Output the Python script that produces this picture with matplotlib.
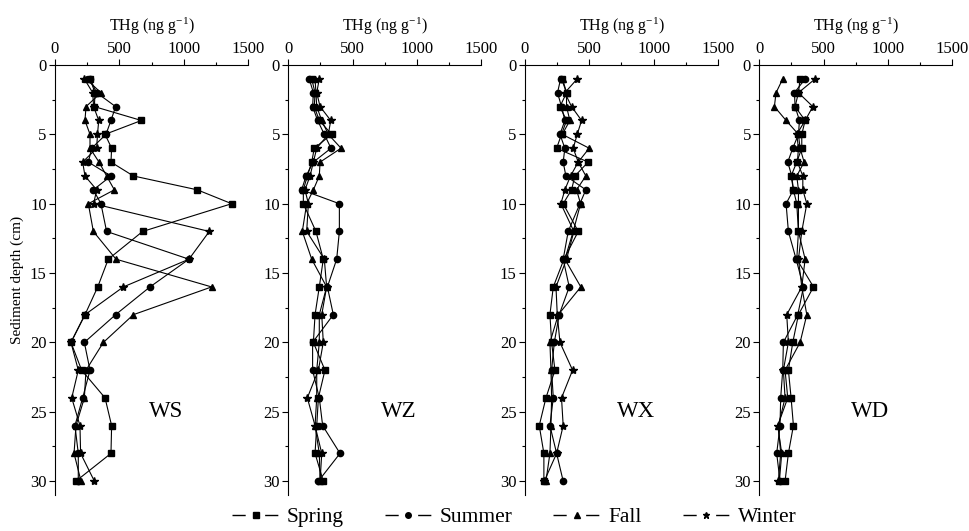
import matplotlib.pyplot as plt
from matplotlib.lines import Line2D
from matplotlib.ticker import MultipleLocator

plt.rcParams['font.family'] = ['Liberation Serif', 'DejaVu Serif']
plt.rcParams['mathtext.fontset'] = 'custom'
plt.rcParams['mathtext.rm'] = 'Liberation Serif'
plt.rcParams['mathtext.it'] = 'Liberation Serif:italic'

depth = [1, 2, 3, 4, 5, 6, 7, 8, 9, 10, 12, 14, 16, 18, 20, 22, 24, 26, 28, 30]
sites = ['WS', 'WZ', 'WX', 'WD']
seasons = ['Spring', 'Summer', 'Fall', 'Winter']

# THg (ng/g) per site, per season
ws_spring = [272, 311, 306, 671, 389, 440, 435, 609, 1106, 1373, 681, 414, 332, 233, 124, 207, 389, 440, 435, 163]
ws_summer = [272, 324, 471, 435, 396, 285, 259, 435, 298, 357, 401, 1041, 738, 471, 228, 272, 215, 155, 181, 181]
ws_fall = [241, 357, 241, 233, 272, 272, 342, 401, 461, 259, 298, 474, 1217, 609, 376, 241, 228, 163, 148, 202]
ws_winter = [228, 293, 300, 340, 330, 324, 215, 233, 324, 300, 1199, 1041, 531, 233, 124, 181, 130, 194, 199, 306]

wz_spring = [182, 208, 202, 241, 337, 202, 182, 148, 117, 117, 215, 272, 241, 208, 195, 285, 234, 221, 208, 272]
wz_summer = [163, 195, 189, 228, 280, 332, 195, 138, 104, 397, 397, 376, 304, 350, 189, 189, 241, 267, 402, 234]
wz_fall = [208, 215, 221, 260, 311, 410, 247, 241, 195, 143, 109, 182, 298, 241, 241, 221, 221, 208, 241, 247]
wz_winter = [241, 221, 247, 330, 311, 221, 195, 169, 130, 156, 143, 280, 298, 260, 272, 234, 148, 208, 260, 247]

wx_spring = [284, 323, 272, 323, 284, 246, 491, 388, 362, 297, 414, 303, 220, 194, 207, 233, 163, 111, 147, 147]
wx_summer = [277, 253, 284, 310, 272, 310, 297, 318, 473, 427, 336, 297, 344, 266, 228, 207, 220, 194, 246, 297]
wx_fall = [292, 323, 323, 349, 290, 499, 414, 473, 401, 432, 375, 310, 434, 259, 194, 202, 207, 202, 194, 163]
wx_winter = [406, 310, 362, 440, 406, 375, 414, 354, 310, 279, 380, 323, 241, 251, 272, 370, 284, 297, 246, 150]

wd_spring = [317, 304, 278, 356, 330, 330, 291, 247, 265, 291, 304, 291, 421, 304, 260, 226, 247, 265, 226, 200]
wd_summer = [356, 273, 278, 312, 304, 260, 221, 252, 265, 208, 226, 286, 343, 299, 187, 182, 166, 161, 135, 161]
wd_fall = [182, 130, 117, 208, 304, 317, 348, 291, 304, 304, 304, 356, 330, 369, 317, 200, 221, 143, 174, 156]
wd_winter = [434, 304, 416, 356, 291, 304, 296, 338, 338, 369, 330, 304, 330, 213, 226, 187, 200, 148, 166, 148]

data = {
    'WS': [ws_spring, ws_summer, ws_fall, ws_winter],
    'WZ': [wz_spring, wz_summer, wz_fall, wz_winter],
    'WX': [wx_spring, wx_summer, wx_fall, wx_winter],
    'WD': [wd_spring, wd_summer, wd_fall, wd_winter],
}
markers = ['s', 'o', '^', '*']
msizes = [4.5, 4.5, 5, 6]

fig = plt.figure(figsize=(9.7, 5.31), dpi=100)
lefts = [0.0567, 0.2972, 0.5412, 0.7828]

for i, site in enumerate(sites):
    ax = fig.add_axes([lefts[i], 0.0678, 0.199, 0.8098])
    for j in range(4):
        ax.plot(data[site][j], depth, marker=markers[j], ms=msizes[j],
                color='black', lw=0.8)
    ax.set_xlim(0, 1500)
    ax.set_ylim(31, 0)
    ax.xaxis.set_ticks_position('top')
    ax.xaxis.set_label_position('top')
    ax.set_xticks([0, 500, 1000, 1500])
    ax.xaxis.set_minor_locator(MultipleLocator(250))
    ax.set_yticks([0, 5, 10, 15, 20, 25, 30])
    ax.yaxis.set_minor_locator(MultipleLocator(2.5))
    ax.spines['right'].set_visible(False)
    ax.spines['bottom'].set_visible(False)
    ax.tick_params(labelsize=12, length=4, width=0.8, pad=2)
    ax.tick_params(which='minor', length=2, width=0.8)
    ax.set_xlabel('THg (ng g$^{-1}$)', fontsize=11.5, labelpad=7)
    ax.text(860, 25, site, fontsize=16.5, ha='center', va='center')
    if i == 0:
        ax.set_ylabel('Sediment depth (cm)', fontsize=11, labelpad=4)

# legend handles: dash - marker - dash
handles = [Line2D([], [], color='black', lw=1, ls=(0, (9.5, 14)),
                  marker=m, ms=4 if m != '*' else 5) for m in markers]
fig.legend(handles, seasons, loc='center', ncol=4, frameon=False,
           fontsize=15.5, handlelength=2.2, handletextpad=0.35,
           columnspacing=1.9, bbox_to_anchor=(0.530, 0.026))

plt.savefig('out.png', dpi=100)
